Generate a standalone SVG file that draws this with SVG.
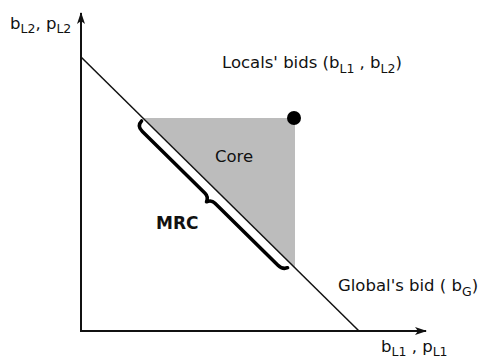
<svg xmlns="http://www.w3.org/2000/svg" width="480" height="360" viewBox="0 0 480 360">
<style>
text{font-family:"DejaVu Sans",Verdana,sans-serif;font-size:16.5px;fill:#111}
.sub{font-size:12.5px}
.ax{stroke:#111;stroke-width:2;fill:none}
</style>
<defs>
<marker id="ah" viewBox="0 0 12 10" refX="11" refY="5" markerWidth="12" markerHeight="10" markerUnits="userSpaceOnUse" orient="auto">
<path d="M0,1 L12,5 L0,9 L3,5 Z" fill="#111"/>
</marker>
</defs>
<g id="core">
<polygon points="143.7,118 295,118 295,268" fill="#bcbcbc"/>
<text x="215" y="162">Core</text>
</g>
<g id="connectors">
<path class="ax" d="M81,331 V13" marker-end="url(#ah)"/>
<path class="ax" d="M80,331 H426" marker-end="url(#ah)"/>
<line x1="81" y1="57" x2="359" y2="331" stroke="#111" stroke-width="1.5"/>
</g>
<g id="locals-bid">
<circle cx="294" cy="118" r="7" fill="#000"/>
<text x="222" y="68">Locals' bids (b<tspan class="sub" dy="5">L1</tspan><tspan dy="-5"> , b</tspan><tspan class="sub" dy="5">L2</tspan><tspan dy="-5">)</tspan></text>
</g>
<g id="mrc">
<path transform="translate(143.7,118.8) rotate(44.6)" d="M0,3 Q0,10 8,10 L96,10 Q101,10 103,15 Q105,10 110,10 L198,10 Q205,10 207,5" fill="none" stroke="#000" stroke-width="3.5" stroke-linecap="round" stroke-linejoin="round"/>
<text x="156" y="229" style="font-weight:bold;font-size:17px">MRC</text>
</g>
<g id="global-bid">
<text x="338" y="291">Global's bid ( b<tspan class="sub" dy="5">G</tspan><tspan dy="-5">)</tspan></text>
</g>
<g id="axis-labels">
<text x="381" y="352">b<tspan class="sub" dy="4">L1</tspan><tspan dy="-4"> , p</tspan><tspan class="sub" dy="4">L1</tspan></text>
<text x="10" y="29">b<tspan class="sub" dy="4">L2</tspan><tspan dy="-4">, p</tspan><tspan class="sub" dy="4">L2</tspan></text>
</g>
</svg>
